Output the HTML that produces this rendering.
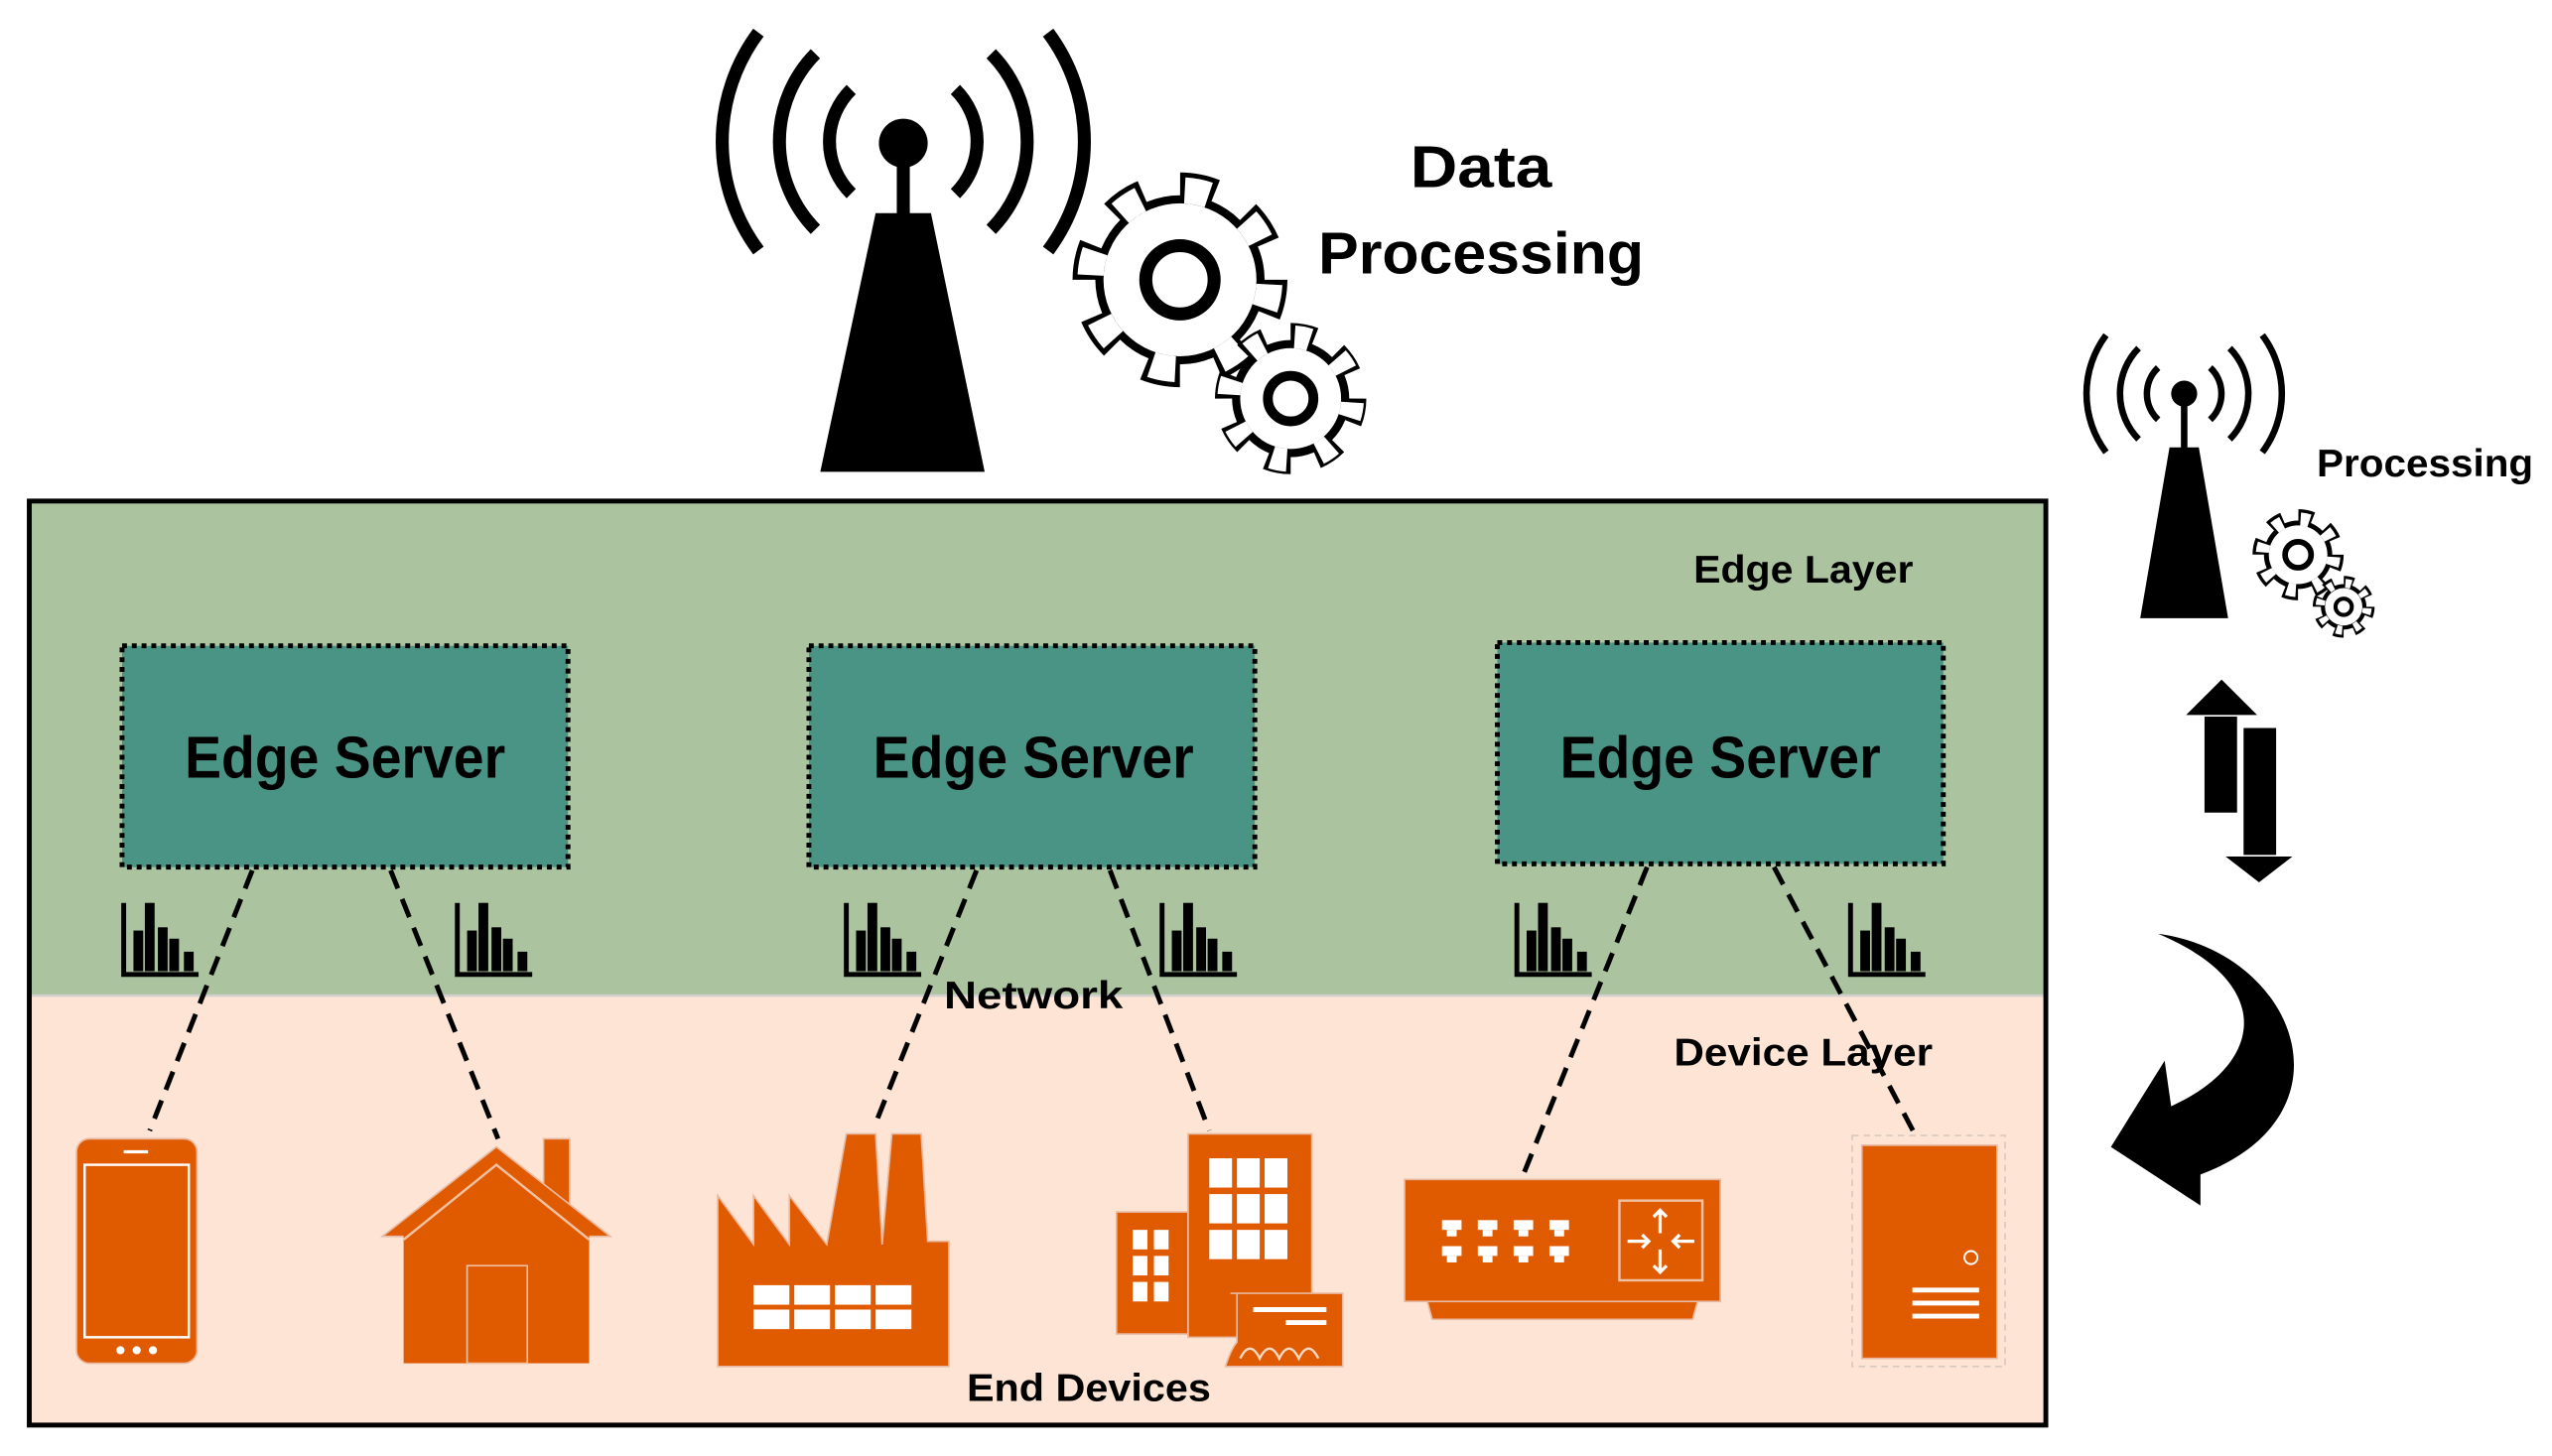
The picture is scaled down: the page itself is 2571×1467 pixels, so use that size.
<!DOCTYPE html>
<html><head><meta charset="utf-8"><style>
html,body{margin:0;padding:0;background:#fff;}
svg{display:block;}
text{font-family:"Liberation Sans",sans-serif;font-weight:bold;fill:#000;}
</style></head><body>
<svg width="2571" height="1467" viewBox="0 0 1568 895" preserveAspectRatio="none" xmlns="http://www.w3.org/2000/svg">
<defs>
<g id="chart">
<path d="M1,0 V44 H47" fill="none" stroke="#000" stroke-width="3"/>
<rect x="7" y="17" width="6" height="25" fill="#000"/>
<rect x="14" y="0" width="6" height="42" fill="#000"/>
<rect x="22" y="15" width="6" height="27" fill="#000"/>
<rect x="29" y="22" width="6" height="20" fill="#000"/>
<rect x="38" y="30" width="6" height="12" fill="#000"/>
</g>
</defs>

<rect x="18" y="308" width="1239" height="304" fill="#abc49f"/>
<rect x="18" y="612" width="1239" height="264" fill="#fde4d4"/>
<line x1="18" y1="612" x2="1257" y2="612" stroke="#d0d0d0" stroke-width="1.5"/>
<rect x="18" y="308" width="1239" height="568" fill="none" stroke="#000" stroke-width="3"/>

<g fill="#4a9485" stroke="#000" stroke-width="3" stroke-dasharray="3 3">
<rect x="75" y="397" width="274" height="136"/>
<rect x="497" y="397" width="274" height="136"/>
<rect x="920" y="395" width="274" height="136"/>
</g>
<text x="212" y="478" font-size="36" text-anchor="middle" textLength="197" lengthAdjust="spacingAndGlyphs">Edge Server</text>
<text x="635" y="478" font-size="36" text-anchor="middle" textLength="197" lengthAdjust="spacingAndGlyphs">Edge Server</text>
<text x="1057" y="478" font-size="36" text-anchor="middle" textLength="197" lengthAdjust="spacingAndGlyphs">Edge Server</text>

<use href="#chart" x="75" y="555"/>
<use href="#chart" x="280" y="555"/>
<use href="#chart" x="519" y="555"/>
<use href="#chart" x="713" y="555"/>
<use href="#chart" x="931" y="555"/>
<use href="#chart" x="1136" y="555"/>

<g stroke="#000" stroke-width="3" stroke-dasharray="12 7">
<line x1="155" y1="535" x2="92" y2="695"/>
<line x1="240" y1="535" x2="306" y2="700"/>
<line x1="600" y1="535" x2="537" y2="693"/>
<line x1="682" y1="535" x2="743" y2="695"/>
<line x1="1012" y1="533" x2="936" y2="722"/>
<line x1="1090" y1="533" x2="1178" y2="700"/>
</g>

<text x="1108" y="358" font-size="24" text-anchor="middle" textLength="135" lengthAdjust="spacingAndGlyphs">Edge Layer</text>
<text x="635" y="620" font-size="24" text-anchor="middle" textLength="110" lengthAdjust="spacingAndGlyphs">Network</text>
<text x="1108" y="655" font-size="24" text-anchor="middle" textLength="159" lengthAdjust="spacingAndGlyphs">Device Layer</text>
<text x="669" y="861" font-size="24" text-anchor="middle" textLength="150" lengthAdjust="spacingAndGlyphs">End Devices</text>

<g fill="#e05a00" stroke="#e8b8a0" stroke-width="1">
<rect x="47" y="700" width="74" height="138" rx="8"/>
<rect x="52" y="716" width="64" height="106" fill="none" stroke="#fff" stroke-width="1.5"/>
<line x1="76" y1="708" x2="91" y2="708" stroke="#fff" stroke-width="2"/>
<circle cx="74" cy="830" r="2.5" fill="#fff" stroke="none"/>
<circle cx="84" cy="830" r="2.5" fill="#fff" stroke="none"/>
<circle cx="94" cy="830" r="2.5" fill="#fff" stroke="none"/>
<rect x="334" y="700" width="16" height="50"/>
<polygon points="235,760 305,705 375,760"/>
<rect x="248" y="758" width="114" height="80" stroke="none"/>
<polyline points="248,762 305,716 362,762" fill="none" stroke="#f0c0a0" stroke-width="1.5"/>
<rect x="287" y="778" width="37" height="60" fill="none" stroke="#f0c0a0"/>
<polygon points="441,735 463,765 463,735 485,765 485,735 508,765 520,697 538,697 542,765 548,697 566,697 570,763 583,763 583,840 441,840"/>
<g fill="#fff" stroke="none">
<rect x="463" y="790" width="22" height="12"/><rect x="488" y="790" width="22" height="12"/><rect x="513" y="790" width="22" height="12"/><rect x="538" y="790" width="22" height="12"/>
<rect x="463" y="805" width="22" height="12"/><rect x="488" y="805" width="22" height="12"/><rect x="513" y="805" width="22" height="12"/><rect x="538" y="805" width="22" height="12"/>
</g>
<rect x="686" y="745" width="44" height="75"/>
<rect x="730" y="697" width="76" height="125"/>
<g fill="#fff" stroke="none">
<rect x="743" y="712" width="14" height="18"/><rect x="760" y="712" width="14" height="18"/><rect x="777" y="712" width="14" height="18"/>
<rect x="743" y="734" width="14" height="18"/><rect x="760" y="734" width="14" height="18"/><rect x="777" y="734" width="14" height="18"/>
<rect x="743" y="756" width="14" height="18"/><rect x="760" y="756" width="14" height="18"/><rect x="777" y="756" width="14" height="18"/>
<rect x="696" y="756" width="9" height="12"/><rect x="709" y="756" width="9" height="12"/>
<rect x="696" y="772" width="9" height="12"/><rect x="709" y="772" width="9" height="12"/>
<rect x="696" y="788" width="9" height="12"/><rect x="709" y="788" width="9" height="12"/>
</g>
<path d="M756,795 H825 V840 H753 Q756,830 760,825 V795 Z"/>
<line x1="770" y1="805" x2="815" y2="805" stroke="#fff" stroke-width="3"/>
<line x1="790" y1="813" x2="815" y2="813" stroke="#fff" stroke-width="3"/>
<path d="M762,835 q6,-12 12,0 q6,-12 12,0 q6,-12 12,0 q6,-12 12,0" fill="none" stroke="#fbd8c4" stroke-width="1.5"/>
<rect x="863" y="725" width="194" height="75"/>
<polygon points="877,800 1043,800 1040,811 880,811"/>
<rect x="995" y="738" width="51" height="49" fill="none" stroke="#f0c0a0" stroke-width="1.5"/>
<g stroke="#fff" stroke-width="2" fill="none">
<path d="M1020,744 V758 M1016,748 L1020,744 L1024,748"/>
<path d="M1020,782 V768 M1016,778 L1020,782 L1024,778"/>
<path d="M1000,763 H1013 M1009,759 L1013,763 L1009,767"/>
<path d="M1041,763 H1028 M1032,759 L1028,763 L1032,767"/>
</g>
<g fill="#fff" stroke="none">
<rect x="886" y="750" width="12" height="6"/><rect x="908" y="750" width="12" height="6"/><rect x="930" y="750" width="12" height="6"/><rect x="952" y="750" width="12" height="6"/>
<rect x="889" y="756" width="6" height="4"/><rect x="911" y="756" width="6" height="4"/><rect x="933" y="756" width="6" height="4"/><rect x="955" y="756" width="6" height="4"/>
<rect x="886" y="766" width="12" height="6"/><rect x="908" y="766" width="12" height="6"/><rect x="930" y="766" width="12" height="6"/><rect x="952" y="766" width="12" height="6"/>
<rect x="889" y="772" width="6" height="4"/><rect x="911" y="772" width="6" height="4"/><rect x="933" y="772" width="6" height="4"/><rect x="955" y="772" width="6" height="4"/>
</g>
<rect x="1138" y="698" width="94" height="142" fill="none" stroke="#d8c8c0" stroke-dasharray="4 3"/>
<rect x="1144" y="704" width="83" height="131"/>
<circle cx="1211" cy="773" r="4" fill="none" stroke="#fff" stroke-width="1.2"/>
<g stroke="#fff" stroke-width="3"><line x1="1175" y1="793" x2="1216" y2="793"/><line x1="1175" y1="801" x2="1216" y2="801"/><line x1="1175" y1="809" x2="1216" y2="809"/></g>
</g>

<!-- big tower -->
<g fill="none" stroke="#000" stroke-width="8">
<path d="M466,20 A112,112 0 0 0 466,154"/>
<path d="M644,20 A112,112 0 0 1 644,154"/>
<path d="M501,33 A77,77 0 0 0 501,141"/>
<path d="M609,33 A77,77 0 0 1 609,141"/>
<path d="M523,55 A45,45 0 0 0 523,119"/>
<path d="M587,55 A45,45 0 0 1 587,119"/>
</g>
<circle cx="555" cy="88" r="15" fill="#000"/>
<rect x="551" y="95" width="8" height="40" fill="#000"/>
<polygon points="538,131 572,131 605,290 504,290" fill="#000"/>

<!-- big gear -->
<g>
<circle cx="725" cy="172" r="58" fill="none" stroke="#000" stroke-width="16" stroke-dasharray="22 23.55"/>
<circle cx="725" cy="172" r="52" fill="#000"/>
<circle cx="725" cy="172" r="47" fill="#fff"/>
<circle cx="725" cy="172" r="55" fill="none" stroke="#fff" stroke-width="16" stroke-dasharray="15 28.2" stroke-dashoffset="-2.85"/>
<circle cx="725" cy="172" r="21" fill="#fff" stroke="#000" stroke-width="8"/>
</g>
<g>
<circle cx="793" cy="245" r="40" fill="none" stroke="#000" stroke-width="13" stroke-dasharray="15 16.4"/>
<circle cx="793" cy="245" r="36" fill="#000"/>
<circle cx="793" cy="245" r="31" fill="#fff"/>
<circle cx="793" cy="245" r="38" fill="none" stroke="#fff" stroke-width="14" stroke-dasharray="9.5 20.35" stroke-dashoffset="-2.4"/>
<circle cx="793" cy="245" r="14" fill="#fff" stroke="#000" stroke-width="6"/>
</g>
<text x="910" y="115" font-size="36" text-anchor="middle" textLength="87" lengthAdjust="spacingAndGlyphs">Data</text>
<text x="910" y="168" font-size="36" text-anchor="middle" textLength="200" lengthAdjust="spacingAndGlyphs">Processing</text>

<!-- small tower -->
<g fill="none" stroke="#000" stroke-width="4">
<path d="M1294,206 A60,60 0 0 0 1294,278"/>
<path d="M1390,206 A60,60 0 0 1 1390,278"/>
<path d="M1314,214 A40,40 0 0 0 1314,270"/>
<path d="M1370,214 A40,40 0 0 1 1370,270"/>
<path d="M1326,226 A22,22 0 0 0 1326,258"/>
<path d="M1358,226 A22,22 0 0 1 1358,258"/>
</g>
<circle cx="1342" cy="242" r="8" fill="#000"/>
<rect x="1340" y="245" width="4" height="32" fill="#000"/>
<polygon points="1333,275 1351,275 1369,380 1315,380" fill="#000"/>
<text x="1490" y="293" font-size="24" text-anchor="middle" textLength="133" lengthAdjust="spacingAndGlyphs">Processing</text>
<g>
<circle cx="1412" cy="341" r="24" fill="none" stroke="#000" stroke-width="8" stroke-dasharray="9 9.85"/>
<circle cx="1412" cy="341" r="21" fill="#000"/>
<circle cx="1412" cy="341" r="18" fill="#fff"/>
<circle cx="1412" cy="341" r="22" fill="none" stroke="#fff" stroke-width="8" stroke-dasharray="5.5 11.78" stroke-dashoffset="-1.4"/>
<circle cx="1412" cy="341" r="8" fill="#fff" stroke="#000" stroke-width="3.5"/>
</g>
<g>
<circle cx="1440" cy="373" r="16" fill="none" stroke="#000" stroke-width="6" stroke-dasharray="6 6.56"/>
<circle cx="1440" cy="373" r="14" fill="#000"/>
<circle cx="1440" cy="373" r="11.5" fill="#fff"/>
<circle cx="1440" cy="373" r="14.5" fill="none" stroke="#fff" stroke-width="5.5" stroke-dasharray="3.6 7.8" stroke-dashoffset="-0.9"/>
<circle cx="1440" cy="373" r="5" fill="#fff" stroke="#000" stroke-width="2.5"/>
</g>

<g fill="#000" stroke="#fff" stroke-width="1">
<rect x="1354" y="438" width="21" height="62"/>
<polygon points="1342,440 1388,440 1365,417"/>
<rect x="1378" y="447" width="21" height="80"/>
<polygon points="1366,526 1410,526 1388,543"/>
</g>

<path d="M1326,574 C1410,585 1450,685 1352,722 L1352,741 L1297,705 L1330,652 L1334,680 C1390,655 1400,605 1326,574 Z" fill="#000"/>
</svg>
</body></html>
